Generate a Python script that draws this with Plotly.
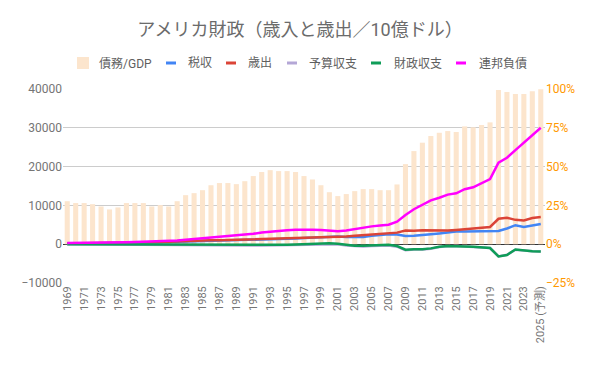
import plotly.graph_objects as go

years = [str(y) for y in range(1969, 2025)] + ["2025 (予測)"]

debt_gdp_pct = [27.7, 26.5, 26.5, 25.8, 24.3, 22.4, 23.7, 26.5, 26.5, 26.5,
                24.3, 25.2, 24.3, 27.7, 31.6, 32.9, 34.8, 38.0, 39.4, 39.4,
                38.7, 40.6, 43.9, 46.5, 47.7, 47.1, 47.1, 46.5, 43.9, 41.7,
                38.0, 33.5, 31.0, 32.3, 34.2, 35.5, 35.5, 34.8, 34.8, 38.5,
                51.6, 60.0, 65.4, 69.7, 71.8, 72.9, 72.3, 75.9, 75.3, 76.8,
                78.5, 99.4, 98.0, 96.8, 96.8, 98.5, 99.8]

revenue = [187, 193, 187, 207, 231, 263, 279, 298, 356, 400,
           463, 517, 599, 618, 601, 666, 734, 769, 854, 909,
           991, 1032, 1055, 1091, 1154, 1259, 1352, 1453, 1579, 1722,
           1828, 2025, 1991, 1853, 1782, 1880, 2154, 2407, 2568, 2524,
           2105, 2163, 2304, 2450, 2775, 3022, 3250, 3268, 3316, 3330,
           3463, 3421, 4047, 4897, 4441, 4919, 5200]

outlays = [184, 196, 210, 231, 246, 269, 332, 372, 409, 459,
           504, 591, 678, 746, 808, 852, 946, 990, 1004, 1064,
           1144, 1253, 1324, 1382, 1409, 1462, 1516, 1561, 1601, 1653,
           1702, 1789, 1863, 2011, 2160, 2293, 2472, 2655, 2729, 2983,
           3518, 3457, 3603, 3527, 3455, 3506, 3692, 3853, 3982, 4109,
           4447, 6554, 6822, 6273, 6135, 6752, 7000]

budget_balance = [1, -9, -26, -26, -15, -7, -54, -69, -50, -55,
                  -40, -73, -74, -121, -208, -185, -222, -238, -168, -192,
                  -205, -278, -321, -340, -300, -259, -226, -174, -103, -30,
                  2, 86, -32, -317, -538, -568, -494, -435, -342, -642,
                  -1550, -1371, -1367, -1149, -719, -514, -466, -620, -715, -785,
                  -984, -3142, -2742, -1418, -1652, -1830, -1900]

fiscal_balance = [3, -3, -23, -23, -15, -6, -53, -74, -54, -59,
                  -41, -74, -79, -128, -208, -185, -212, -221, -150, -155,
                  -153, -221, -269, -290, -255, -203, -164, -107, -22, 69,
                  126, 236, 128, -158, -378, -413, -318, -248, -161, -459,
                  -1413, -1294, -1300, -1077, -680, -485, -439, -585, -665, -779,
                  -984, -3133, -2775, -1376, -1694, -1833, -1880]

federal_debt = [278, 283, 303, 322, 341, 344, 395, 477, 549, 607,
                640, 712, 789, 925, 1137, 1307, 1507, 1741, 1890, 2052,
                2191, 2412, 2689, 3000, 3248, 3433, 3604, 3734, 3772, 3721,
                3632, 3410, 3320, 3540, 3913, 4296, 4592, 4829, 5035, 5803,
                7545, 9019, 10128, 11281, 11983, 12780, 13117, 14168, 14665, 15750,
                16801, 21017, 22284, 24253, 26236, 28200, 30000]

left_ticks = [-10000, 0, 10000, 20000, 30000, 40000]
right_ticks = [-0.25, 0, 0.25, 0.5, 0.75, 1.0]

FONT = "Roboto, 'Noto Sans CJK JP', sans-serif"
GRAY = "#757575"
ORANGE = "#FF9900"

series = [
    ("税収", revenue, "#4285F4"),
    ("歳出", outlays, "#DB4437"),
    ("予算収支", budget_balance, "#B4A7D6"),
    ("財政収支", fiscal_balance, "#0F9D58"),
    ("連邦負債", federal_debt, "#FF00FF"),
]

fig = go.Figure()
fig.add_trace(go.Bar(
    x=years, y=[v / 100 for v in debt_gdp_pct], name="債務/GDP",
    marker=dict(color="#FCE5CD", line=dict(width=0)),
    yaxis="y", showlegend=False,
))
for name, vals, color in series:
    fig.add_trace(go.Scatter(
        x=years, y=vals, name=name, mode="lines",
        line=dict(color=color, width=2.5),
        yaxis="y2", showlegend=False,
    ))

# page offset introduced by the default body margin
OFF = 8
FW, FH = 600 - OFF, 371 - OFF
# plot area in page pixels
L, R, T, B = 63, 545, 89, 283
W, H = R - L, B - T
def px(x):
    return (x - L) / W
def py(y):
    return (B - y) / H

shapes = []
annotations = []
ly = 63
shapes.append(dict(type="rect", xref="paper", yref="paper",
                   x0=px(77), x1=px(89), y0=py(ly + 6), y1=py(ly - 6),
                   fillcolor="#FCE5CD", line=dict(width=0)))
annotations.append(dict(text="債務/GDP", xref="paper", yref="paper",
                        x=px(97), y=py(ly), xanchor="left", yanchor="middle",
                        showarrow=False, font=dict(size=12, color="#5f5f5f", family=FONT)))
leg_pos = [(166, 186), (226, 246), (287, 307), (371, 392), (456, 477)]
for (sx, tx), (name, _, color) in zip(leg_pos, series):
    shapes.append(dict(type="line", xref="paper", yref="paper",
                       x0=px(sx), x1=px(sx + 10), y0=py(ly), y1=py(ly),
                       line=dict(color=color, width=3)))
    annotations.append(dict(text=name, xref="paper", yref="paper",
                            x=px(tx), y=py(ly), xanchor="left", yanchor="middle",
                            showarrow=False, font=dict(size=12, color="#5f5f5f", family=FONT)))

fig.update_layout(
    width=FW, height=FH,
    margin=dict(l=L - OFF, r=FW - (R - OFF), t=T - OFF, b=FH - (B - OFF)),
    paper_bgcolor="white", plot_bgcolor="white",
    font=dict(family=FONT, color=GRAY),
    title=dict(text="アメリカ財政（歳入と歳出／10億ドル）", x=(300 - OFF) / FW, xanchor="center",
               xref="container", y=1 - (30 - OFF) / FH, yanchor="middle",
               font=dict(size=18, color="#6b6b6b", family=FONT)),
    bargap=0.4,
    xaxis=dict(type="category", tickvals=years[::2], ticktext=years[::2],
               tickangle=-90, tickfont=dict(size=11, color=GRAY),
               showgrid=False, showline=False, ticks="", zeroline=False),
    yaxis=dict(side="right", range=[-0.25, 1.0], tickvals=right_ticks,
               tickformat=".0%", tickfont=dict(size=12, color=ORANGE),
               showgrid=True, gridcolor="#CCCCCC", gridwidth=1,
               zeroline=True, zerolinecolor="#333333", zerolinewidth=1,
               showline=False, ticks=""),
    yaxis2=dict(overlaying="y", side="left", range=[-10000, 40000],
                tickvals=left_ticks, tickformat="d",
                tickfont=dict(size=12, color=GRAY),
                showgrid=False, zeroline=False, showline=False, ticks=""),
    shapes=shapes,
    annotations=annotations,
    showlegend=False,
)

fig.write_html("out.html")
